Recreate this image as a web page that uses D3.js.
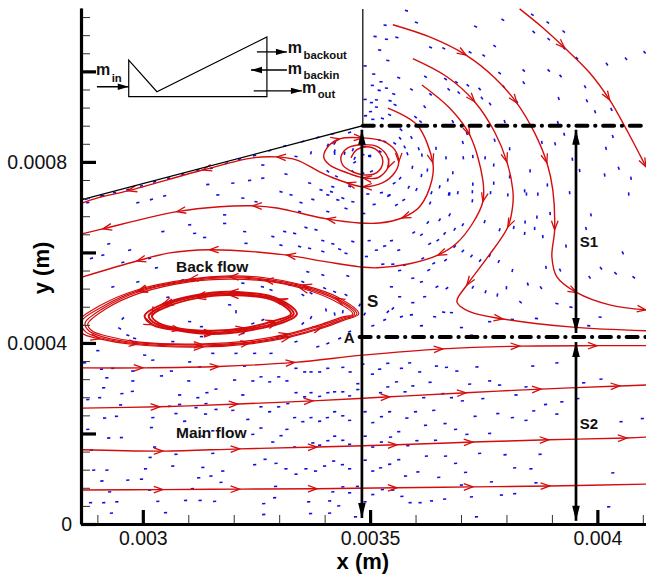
<!DOCTYPE html>
<html>
<head>
<meta charset="utf-8">
<script src="https://cdn.jsdelivr.net/npm/d3@7/dist/d3.min.js"></script>
<style>
html, body { margin: 0; padding: 0; background: #fff; }
svg { display: block; font-family: "Liberation Sans", Arial, sans-serif; }
</style>
</head>
<body>
<div id="chart"></div>
<script>
// all positions in micrometres, tick labels in metres

// ticks
const xMajorTicks = [3000, 3500, 4000];
const xMajorLabels = ["0.003", "0.0035", "0.004"];
const xMinorTicks = [2900, 3100, 3200, 3300, 3400, 3600, 3700, 3800, 3900, 4100];
const yMajorTicks = [0, 200, 400, 600, 800, 1000];
const yMajorLabels = ["0", "", "0.0004", "", "0.0008", ""];
const yMinorTicks = [40, 80, 120, 160, 240, 280, 320, 360, 440, 480, 520, 560, 640, 680, 720, 760,
    840, 880, 920, 960, 1040, 1080, 1120];

// streamtraces
const mainLine1 = [[2866, 75], [3044, 76], [3213, 77], [3383, 78], [3559, 80], [3726, 82], [3895, 84], [4107, 88]];
const mainLine1Arrows = [1, 2, 3, 4, 5, 6];
const mainLine2 = [[2866, 164], [3044, 161], [3213, 166], [3383, 170], [3559, 175], [3726, 181], [3893, 186], [4065, 190], [4107, 192]];
const mainLine2Arrows = [1, 2, 3, 4, 5, 6, 7];
const mainLine3 = [[2866, 256], [3037, 259], [3209, 265], [3374, 272], [3543, 281], [3711, 290], [3876, 298], [4049, 305], [4107, 307]];
const mainLine3Arrows = [1, 2, 3, 4, 5, 6, 7];
const mainLine4 = [[2866, 345], [3000, 345], [3167, 348], [3334, 357], [3484, 373], [3660, 387], [3829, 393], [3999, 394], [4107, 394]];
const mainLine4Arrows = [1, 2, 3, 5, 6, 7];

const topLineA = [[3829, 1138], [3878, 1098], [3928, 1052], [3983, 997], [4027, 937], [4067, 866], [4107, 789]];
const topLineAArrows = [2, 4, 6];
const topLineB = [[3550, 1103], [3631, 1076], [3711, 1036], [3774, 986], [3823, 930], [3862, 864], [3889, 798], [3902, 738],
    [3906, 650], [3900, 590], [3911, 546], [3955, 511], [4027, 484], [4107, 473]];
const topLineBArrows = [2, 4, 6, 8, 11, 13];
const topLineC = [[3594, 1028], [3669, 988], [3730, 933], [3774, 866], [3801, 800], [3814, 738], [3814, 705], [3803, 656],
    [3759, 590], [3713, 528], [3691, 491], [3719, 469], [3792, 453], [3946, 435], [4107, 427]];
const topLineCArrows = [2, 4, 7, 9, 12];
const topLineD = [[3614, 970], [3675, 919], [3719, 860], [3748, 760], [3748, 712], [3726, 665], [3691, 621], [3649, 594],
    [3587, 575], [3515, 566], [3477, 568], [3405, 579], [3317, 594], [3251, 601], [3147, 606], [3059, 599], [2987, 581], [2868, 546]];
const topLineDArrows = [2, 4, 7, 12, 14, 16];
const topLineE = [[3539, 919], [3603, 882], [3638, 798], [3636, 760], [3609, 701], [3570, 676], [3521, 665], [3477, 665],
    [3405, 674], [3345, 687], [3295, 698], [3242, 703], [3169, 701], [3075, 690], [2912, 652], [2866, 641]];
const topLineEArrows = [2, 5, 8, 11, 13, 14];
const spiralLine = [[3458, 809], [3471, 827], [3499, 833], [3521, 820], [3528, 800], [3517, 778], [3493, 771], [3462, 778],
    [3440, 793], [3436, 811], [3451, 831], [3484, 838], [3517, 833], [3539, 809], [3539, 787], [3517, 765], [3484, 765],
    [3449, 776], [3411, 793], [3398, 811], [3411, 838], [3433, 851], [3484, 853], [3528, 846], [3554, 827], [3563, 800],
    [3554, 776], [3528, 754], [3484, 745], [3449, 754], [3418, 765], [3389, 778], [3339, 804], [3295, 811], [3242, 809],
    [3132, 782], [2967, 736], [2899, 720], [2866, 709]];
const spiralLineArrows = [14, 16, 21, 22, 25, 28, 29, 33, 35, 36];

// back flow rings
const outerRingA = [[3475, 464], [3427, 502], [3352, 528], [3268, 544], [3191, 548], [3103, 541], [2987, 517], [2905, 482],
    [2857, 446], [2866, 422], [2905, 409], [2987, 396], [3132, 391], [3235, 398], [3323, 413], [3396, 433], [3444, 451]];
const outerRingAArrows = [2, 5, 10, 12, 14];
const outerRingB = [[3471, 464], [3425, 499], [3350, 526], [3268, 541], [3191, 546], [3103, 539], [2989, 515], [2909, 479],
    [2864, 446], [2875, 424], [2909, 411], [2989, 398], [3132, 393], [3235, 400], [3323, 415], [3394, 435], [3442, 453]];
const outerRingBArrows = [1, 4, 6, 11, 13, 15];
const outerRingC = [[3466, 464], [3423, 497], [3347, 524], [3268, 539], [3191, 544], [3103, 537], [2991, 513], [2914, 477],
    [2873, 444], [2881, 427], [2914, 413], [2991, 400], [3132, 396], [3235, 402], [3321, 418], [3391, 438], [3440, 455]];
const outerRingCArrows = [3, 6, 12];
const outerRingD = [[3462, 464], [3418, 495], [3345, 522], [3268, 537], [3191, 541], [3103, 535], [2993, 510], [2918, 475],
    [2879, 442], [2888, 427], [2918, 416], [2993, 402], [3132, 398], [3235, 405], [3319, 420], [3389, 440], [3438, 457]];
const outerRingDArrows = [2, 14];
const innerRingA = [[3339, 464], [3299, 497], [3191, 513], [3119, 506], [3044, 486], [3004, 460], [3022, 440], [3081, 427],
    [3154, 420], [3229, 427], [3299, 442]];
const innerRingAArrows = [1, 2, 4, 6, 8, 9];
const innerRingB = [[3332, 464], [3295, 495], [3191, 509], [3119, 503], [3048, 483], [3013, 460], [3029, 442], [3084, 429],
    [3154, 423], [3226, 430], [3295, 445]];
const innerRingBArrows = [1, 3, 4, 7, 8, 10];
const innerRingC = [[3326, 464], [3290, 493], [3191, 506], [3119, 499], [3053, 480], [3020, 460], [3035, 444], [3086, 431],
    [3154, 427], [3224, 433], [3290, 449]];
const innerRingCArrows = [2, 3, 5, 9, 10];

// velocity vectors: x, y, direction in degrees
const upperVectors = [
    [3580,1134,-15],[3602,1108,-15],[3533,1102,-5],[3511,1077,-5],[3536,1071,-10],[3559,1075,-10],[3521,1047,-10],[3539,1024,-10],
    [3489,1012,0],[3508,994,0],[3524,977,0],[3505,969,0],[3536,963,-5],[3520,958,-10],[3489,938,0],[3514,937,-5],[3503,931,0],
    [3544,935,-15],[3552,950,-20],[3555,926,-20],[3514,921,-5],[3501,911,5],[3490,902,5],[3506,894,0],[3527,896,-15],[3543,904,-25],
    [3563,986,-20],[3591,960,-30],[3620,922,-50],[3600,899,-40],[3611,889,-40],[3633,949,-40],[3622,988,-30],[3633,1053,-25],
    [3662,1051,-25],[3666,983,-35],[3690,976,-35],[3673,960,-40],[3695,953,-45],[3715,969,-40],[3741,961,-45],[3720,1042,-30],
    [3750,1035,-35],[3774,1056,-35],[3732,1099,-25],[3792,1114,-30],[3857,1125,-35],[3891,1108,-35],[3860,1087,-40],[3893,1071,-40],
    [3926,1088,-40],[3927,1051,-45],[3955,1029,-45],[3785,996,-40],[3838,1002,-45],[3893,1002,-45],[3919,990,-50],[3838,975,-55],
    [3973,966,-60],[3915,940,-70],[3977,935,-65],[3995,911,-70],[4031,916,-60],[4021,1016,-55],[4063,1028,-50],[4104,1042,-50],
    [3746,941,-55],[3764,928,-55],[3823,933,-60],[3794,966,-50],[3682,889,-60],[3713,863,-70],[3704,843,-75],[3796,889,-75],
    [3774,848,-75],[3807,829,-85],[3913,887,-75],[3927,861,-75],[3907,840,-75],[3878,843,-80],[3945,806,-80],[3961,781,-80],
    [4019,830,-75],[4034,856,-70],[4016,771,-80],[4047,786,-70],[4074,764,-80],[4069,729,-85],[3852,780,90],[3772,793,85],
    [3753,809,85],[3726,812,-85],[3705,809,-80],[3667,809,-85],[3645,830,-85],[3614,815,-85],[3607,829,-70],[3576,833,-60],
    [3582,818,-70],[3566,852,-50],[3568,871,-40],[3591,854,-60],[3593,788,80],[3613,770,80],[3626,782,85],[3585,744,60],
    [3602,739,65],[3566,764,50],[3553,753,30],[3541,725,20],[3525,732,10],[3495,729,0],[3671,760,80],[3653,745,75],[3635,732,70],
    [3682,776,90],[3693,732,80],[3675,729,80],[3726,751,90],[3725,734,90],[3772,753,90],[3765,732,85],[3807,767,90],[3840,736,90],
    [3869,729,90],[3890,749,90],[3939,732,-85],[3554,841,-35],[3532,845,-20],[3521,848,-10],[3522,823,-30],[3499,814,10],[3488,834,0]
];
const rightVectors = [
    [3542,727,20],[3574,716,30],[3558,705,30],[3509,706,5],[3486,686,0],[3632,709,65],[3673,729,80],[3725,714,80],[3803,727,85],
    [3844,729,90],[3986,683,-80],[3675,683,60],[3653,672,55],[3627,666,50],[3596,644,35],[3613,639,35],[3664,642,50],[3686,651,55],
    [3704,661,60],[3752,668,70],[3785,650,70],[3816,655,80],[3841,667,85],[3840,642,85],[3862,653,90],[3867,678,90],[3896,686,-85],
    [3880,635,-85],[3931,614,-80],[3975,653,-75],[4056,599,-65],[4008,565,-50],[4040,554,-40],[4080,545,-35],[3983,545,-55],
    [3918,561,-65],[3887,567,-80],[3813,560,75],[3783,580,65],[3763,593,60],[3742,582,55],[3723,592,50],[3704,603,45],[3686,613,45],
    [3649,627,35],[3631,619,30],[3666,583,40],[3640,576,30],[3616,587,25],[3576,572,15],[3563,605,15],[3532,614,10],[3547,626,10],
    [3498,626,5],[3514,605,5],[3492,591,0],[3528,574,5],[3550,574,8],[3565,560,8],[3594,543,10],[3613,535,12],[3629,561,25],
    [3647,524,30],[3669,521,35],[3726,523,60],[3754,513,70],[3780,506,80],[3800,522,85],[3847,530,-70],[3876,522,-55],[3831,490,-40],
    [3911,487,-15],[3942,479,-10],[4006,457,-5],[3981,438,-5],[3866,454,-5],[3813,452,-5],[3763,447,0],[3701,434,0],[3679,467,-5],
    [3662,468,-10],[3642,458,-10],[3613,438,5],[3591,462,10],[3569,458,15],[3550,476,45],[3539,469,45],[3532,451,25],[3506,438,20],
    [3488,464,60],[3547,524,0],[3565,502,0],[3594,489,0],[3620,502,10],[3723,417,0]
];
const leftVectors = [
    [2879,710,15],[2912,725,15],[2989,710,15],[3019,717,15],[3048,725,15],[3165,727,0],[3220,720,-5],[3249,712,-10],[3304,734,-15],
    [3326,727,-15],[3348,710,-15],[3374,717,-15],[3407,727,-10],[3429,716,-10],[3462,712,-10],[3447,697,-15],[3407,690,-15],
    [3345,690,-15],[3180,683,0],[3103,661,5],[3180,664,0],[3114,642,5],[3136,633,0],[3044,646,8],[2971,605,15],[2912,594,15],
    [2925,619,15],[2887,587,15],[2956,578,15],[3015,587,12],[3030,566,12],[2934,524,15],[2989,535,15],[3055,501,10],[3088,539,10],
    [3227,620,0],[3224,646,-5],[3312,646,-10],[3334,642,-10],[3359,655,-15],[3381,650,-15],[3396,626,-15],[3418,619,-15],
    [3433,607,-15],[3447,598,-15],[3462,624,-15],[3286,635,-10],[3304,616,-10],[3345,613,-15],[3367,609,-15],[3396,602,-15],
    [3363,557,-15],[3451,548,-20],[3396,550,-20],[3352,535,-20],[3337,528,-20],[3323,528,-20],[3400,521,-25],[3422,513,-25],
    [3447,506,-30],[3282,517,-15],[3263,524,-10],[3220,532,-5],[3301,487,-30],[3352,506,-30],[3370,510,-30],[3403,473,-75],
    [3422,464,-80],[3440,469,80],[3370,456,60],[3352,443,45],[3264,451,20],[3242,443,15],[3227,432,10],[3191,484,-5],[3205,469,-85],
    [3103,447,-5],[3129,436,0],[2956,454,45],[2949,432,-30],[2967,417,-20],[2982,410,-15],[3004,373,-5],[3037,395,-5],[3066,403,0],
    [3129,414,0],[3169,421,0],[3220,421,5],[3297,414,15],[3337,403,15],[3385,392,15],[3407,399,20],[3433,410,20],[3455,425,25],
    [3282,377,5],[3246,377,5],[3205,377,5],[3154,377,0],[2901,383,0],[2868,358,0],[3477,484,60]
];
const wallVectors = [
    [3455,865,15],[3418,862,15],[3385,854,15],[3352,845,20],[3312,835,15],[3279,825,15],[3246,814,15],[3213,806,15],[3184,797,15],
    [3151,786,15],[3121,782,15],[3088,773,15],[3057,764,15],[3026,756,15],[2997,747,15],[2967,739,15],[2938,732,15],[2909,725,15],
    [2876,718,15],[3370,820,75],[3337,812,-10],[3315,773,-15],[3264,793,0],[3264,764,5],[3235,759,5],[3198,753,5],[3143,750,5],
    [3367,753,-15],[3392,738,-15],[3418,745,-15],[3466,799,30],[3407,837,60],[3422,824,70],[3466,808,65],[3462,827,70],[3444,819,80],
    [3422,841,60],[3422,819,90],[3407,779,-40],[3426,768,-30],[3499,812,-10],[3503,779,20],[3484,775,10],[3415,734,-15],[3440,720,-20],
    [3462,779,-45],[3484,816,0],[3455,746,-20]
];
// main flow vectors point along the channel
const mainFlowVectors = [
    [2872,356],[2909,342],[2934,344],[2978,338],[3022,362],[3041,327],[3063,338],[3103,358],[3125,347],[3224,349],[2921,323],[2914,301],
    [2978,316],[2977,293],[2954,288],[2879,275],[2905,279],[2951,263],[3081,285],[3121,279],[3141,290],[3161,298],[3101,316],[3202,318],
    [3242,316],[3260,325],[3279,314],[3299,325],[3317,316],[3337,344],[3356,336],[3370,336],[3389,336],[3407,344],[3337,290],[3356,281],
    [3370,290],[3389,282],[3407,290],[3422,292],[3081,264],[3059,260],[3117,257],[3139,266],[3161,253],[3198,251],[3220,285],[3260,259],
    [3279,248],[3299,259],[3319,266],[3073,244],[3022,235],[3092,227],[3138,243],[3231,231],[2916,234],[2942,238],[2879,209],[3019,213],
    [2925,190],[2953,191],[3132,194],[3154,206],[3242,198],[3260,212],[3304,195],[3317,209],[3286,181],[3334,235],[3352,226],[3370,235],
    [3389,227],[3406,235],[3422,248],[3026,170],[2887,163],[3073,154],[3016,147],[3154,156],[3334,170],[3374,179],[3389,174],[3407,184],
    [3422,194],[2892,119],[2921,119],[3006,122],[3066,128],[3132,125],[3176,117],[3246,131],[3269,143],[3293,134],[3315,122],[3337,110],
    [3359,122],[3380,117],[3400,128],[3420,139],[2910,95],[2967,97],[2997,99],[3123,102],[3150,106],[3172,92],[2927,71],[3015,75],
    [3109,78],[3292,83],[3290,58],[3418,71],[2885,47],[2914,47],[2943,49],[3033,50],[3094,52],[3126,52],[3158,50],[3266,45],[3365,49],
    [3411,51],[2931,24],[3050,25],[3266,21],[3369,23],[3411,24],[3431,40],
    [3440,346],[3456,336],[3484,353],[3505,331],[3521,342],[3539,355],[3569,344],[3587,356],[3609,336],[3646,349],[3668,346],[3691,338],
    [3735,347],[3858,349],[3911,356],[3440,292],[3455,283],[3473,310],[3473,297],[3523,290],[3539,303],[3558,314],[3577,292],[3594,305],
    [3632,313],[3618,279],[3660,288],[3679,279],[3703,272],[3719,309],[3763,316],[3785,307],[3748,277],[3821,285],[3843,303],[3886,264],
    [3922,270],[3970,312],[4008,320],[3957,277],[3440,239],[3455,229],[3489,248],[3506,224],[3525,237],[3543,248],[3581,234],[3600,248],
    [3640,251],[3622,218],[3665,222],[3688,209],[3713,198],[3731,238],[3763,200],[3781,244],[3813,235],[3843,229],[3860,250],[3911,243],
    [4052,226],[4099,233],[3440,185],[3455,176],[3489,194],[3506,170],[3525,181],[3545,192],[3563,204],[3583,173],[3603,184],[3644,185],
    [3624,150],[3666,150],[3688,134],[3710,114],[3741,156],[3797,153],[3874,154],[3818,124],[3854,122],[4034,113],[3605,115],[3578,106],
    [3651,103],[3439,131],[3455,122],[3489,141],[3506,117],[3523,124],[3543,132],[3563,142],[3440,82],[3455,69],[3472,83],[3506,65],
    [3527,76],[3550,75],[3570,61],[3588,47],[3610,47],[3635,51],[3664,55],[3701,86],[3723,60],[3767,93],[3789,64],[3818,67],[3865,91],
    [3489,49],[3468,16],[3734,16],[4025,38]
];

// geometry and annotations
const wallLine = [[2864, 716], [3484, 880], [3484, 1138]];
const insetShape = [[2969, 1025], [3031, 955], [3273, 1076], [3273, 944], [2969, 944]];
const cutLineTop = [[3484, 880], [4107, 880]];
const cutLineBottom = [[3477, 413], [4107, 413]];
const spanArrows = [
    [[3482, 871], [3482, 13]],
    [[3953, 871], [3953, 422]],
    [[3953, 402], [3953, 7]]
];
const insetArrows = [
    [[2899, 966], [2969, 966]],
    [[3251, 1043], [3317, 1043]],
    [[3317, 1003], [3238, 1003]],
    [[3244, 957], [3350, 957]]
];
const spanLabels = [["S", 3493, 479], ["S1", 3961, 612], ["S2", 3961, 210], ["A", 3442, 400]];
const flowLabels = [["Back flow", 3073, 557], ["Main flow", 3073, 190]];
const massLabels = [["in", 2897, 992, 7], ["backout", 3319, 1041, 6], ["backin", 3319, 995, 5], ["out", 3350, 952, 5]];

const width = 646;
const height = 575;

const xScale = d3.scaleLinear().domain([2864, 4107]).range([81, 646]);
const yScale = d3.scaleLinear().domain([0, 1140]).range([524, 8]);

const svg = d3.select("#chart").append("svg")
    .attr("width", width)
    .attr("height", height);

svg.append("defs").append("clipPath")
    .attr("id", "plot-clip")
    .append("rect")
    .attr("x", 81)
    .attr("y", 0)
    .attr("width", width - 81)
    .attr("height", 524);

const lineGen = d3.line().x(d => xScale(d[0])).y(d => yScale(d[1])).curve(d3.curveCatmullRom);
const closedGen = d3.line().x(d => xScale(d[0])).y(d => yScale(d[1])).curve(d3.curveCatmullRomClosed);
const straightGen = d3.line().x(d => xScale(d[0])).y(d => yScale(d[1]));

const plot = svg.append("g").attr("clip-path", "url(#plot-clip)");

// velocity vectors
const vectorRows = [...upperVectors, ...rightVectors, ...leftVectors, ...wallVectors, ...mainFlowVectors.map(d => [d[0], d[1], 3])];
plot.append("g").selectAll("line")
    .data(vectorRows)
    .join("line")
    .attr("x1", d => xScale(d[0]) - 1.6 * Math.cos(d[2] * Math.PI / 180))
    .attr("y1", d => yScale(d[1]) + 1.6 * Math.sin(d[2] * Math.PI / 180))
    .attr("x2", d => xScale(d[0]) + 1.6 * Math.cos(d[2] * Math.PI / 180))
    .attr("y2", d => yScale(d[1]) - 1.6 * Math.sin(d[2] * Math.PI / 180))
    .attr("stroke", "#1010e0")
    .attr("stroke-width", 1.6);

// wall and inset sketch
svg.append("path")
    .attr("d", straightGen(wallLine))
    .attr("fill", "none")
    .attr("stroke", "#000")
    .attr("stroke-width", 1.2);

svg.append("path")
    .attr("d", straightGen(insetShape) + "Z")
    .attr("fill", "none")
    .attr("stroke", "#000")
    .attr("stroke-width", 1.2);

// streamtraces
const redLine = "#d40c0c";

function drawArrows(points, arrows, closed) {
    const n = points.length;
    arrows.forEach(i => {
        const a = closed ? points[(i + n - 1) % n] : points[Math.max(i - 1, 0)];
        const b = closed ? points[(i + 1) % n] : points[Math.min(i + 1, n - 1)];
        const ang = Math.atan2(yScale(b[1]) - yScale(a[1]), xScale(b[0]) - xScale(a[0]));
        const x = xScale(points[i][0]);
        const y = yScale(points[i][1]);
        const barb = s => [
            x - 9 * Math.cos(ang) - s * 3.3 * Math.sin(ang),
            y - 9 * Math.sin(ang) + s * 3.3 * Math.cos(ang)
        ];
        plot.append("path")
            .attr("d", d3.line()([barb(1), [x, y], barb(-1)]))
            .attr("fill", "none")
            .attr("stroke", redLine)
            .attr("stroke-width", 1.3);
    });
}

const openLines = [
    [mainLine1, mainLine1Arrows], [mainLine2, mainLine2Arrows], [mainLine3, mainLine3Arrows], [mainLine4, mainLine4Arrows],
    [topLineA, topLineAArrows], [topLineB, topLineBArrows], [topLineC, topLineCArrows], [topLineD, topLineDArrows],
    [topLineE, topLineEArrows], [spiralLine, spiralLineArrows]
];
openLines.forEach(([points, arrows]) => {
    plot.append("path")
        .attr("d", lineGen(points))
        .attr("fill", "none")
        .attr("stroke", redLine)
        .attr("stroke-width", 1.4);
    drawArrows(points, arrows, false);
});

const rings = [
    [outerRingA, outerRingAArrows, 1.2], [outerRingB, outerRingBArrows, 1.2], [outerRingC, outerRingCArrows, 1.2], [outerRingD, outerRingDArrows, 1.2],
    [innerRingA, innerRingAArrows, 2], [innerRingB, innerRingBArrows, 2], [innerRingC, innerRingCArrows, 2]
];
rings.forEach(([points, arrows, sw]) => {
    plot.append("path")
        .attr("d", closedGen(points))
        .attr("fill", "none")
        .attr("stroke", redLine)
        .attr("stroke-width", sw);
    drawArrows(points, arrows, true);
});

// dash-dot lines bounding S1 and S2
[cutLineTop, cutLineBottom].forEach(points => {
    svg.append("path")
        .attr("d", straightGen(points))
        .attr("fill", "none")
        .attr("stroke", "#000")
        .attr("stroke-width", 4)
        .attr("stroke-linecap", "round")
        .attr("stroke-dasharray", "11 7.7 0.3 7.7");
});

function drawBlackArrow(pts, lineWidth, headLen, headHalf) {
    const x1 = xScale(pts[0][0]), y1 = yScale(pts[0][1]);
    const x2 = xScale(pts[1][0]), y2 = yScale(pts[1][1]);
    const ang = Math.atan2(y2 - y1, x2 - x1);
    const cos = Math.cos(ang), sin = Math.sin(ang);
    svg.append("line")
        .attr("x1", x1).attr("y1", y1)
        .attr("x2", x2).attr("y2", y2)
        .attr("stroke", "#000")
        .attr("stroke-width", lineWidth);
    const head = (x, y, c, s) => [
        [x, y],
        [x - headLen * c - headHalf * s, y - headLen * s + headHalf * c],
        [x - headLen * c + headHalf * s, y - headLen * s - headHalf * c]
    ];
    return { head, x1, y1, x2, y2, cos, sin };
}

spanArrows.forEach(pts => {
    const a = drawBlackArrow(pts, 2.7, 15, 3.8);
    [a.head(a.x2, a.y2, a.cos, a.sin), a.head(a.x1, a.y1, -a.cos, -a.sin)].forEach(tri => {
        svg.append("polygon")
            .attr("points", tri.join(" "))
            .attr("fill", "#000");
    });
});

insetArrows.forEach(pts => {
    const a = drawBlackArrow(pts, 1.3, 11, 3.2);
    svg.append("polygon")
        .attr("points", a.head(a.x2, a.y2, a.cos, a.sin).join(" "))
        .attr("fill", "#000");
});

// labels
svg.append("g").selectAll("text")
    .data(spanLabels)
    .join("text")
    .attr("x", d => xScale(d[1]))
    .attr("y", d => yScale(d[2]))
    .attr("font-size", d => d[0] === "S" ? 17 : 15)
    .attr("font-weight", "bold")
    .attr("fill", "#111")
    .text(d => d[0]);

svg.append("g").selectAll("text")
    .data(flowLabels)
    .join("text")
    .attr("x", d => xScale(d[1]))
    .attr("y", d => yScale(d[2]))
    .attr("font-size", 15.5)
    .attr("font-weight", "bold")
    .attr("fill", "#111")
    .text(d => d[0]);

const massText = svg.append("g").selectAll("text")
    .data(massLabels)
    .join("text")
    .attr("x", d => xScale(d[1]))
    .attr("y", d => yScale(d[2]))
    .attr("font-size", 16)
    .attr("font-weight", "bold")
    .attr("fill", "#111");
massText.append("tspan").text("m");
massText.append("tspan")
    .attr("dx", 1.5)
    .attr("dy", d => d[3])
    .attr("font-size", 11.3)
    .text(d => d[0]);

// axes: minor ticks underneath, then the labelled major ticks
svg.append("g")
    .attr("transform", "translate(0,524)")
    .call(d3.axisBottom(xScale).tickValues(xMinorTicks).tickSize(-9).tickSizeOuter(0).tickFormat(""))
    .call(g => g.selectAll(".tick line").attr("stroke", "#333").attr("stroke-width", 1));
svg.append("g")
    .attr("transform", "translate(81,0)")
    .call(d3.axisLeft(yScale).tickValues(yMinorTicks).tickSize(-9).tickSizeOuter(0).tickFormat(""))
    .call(g => g.selectAll(".tick line").attr("stroke", "#333").attr("stroke-width", 1));

const xAxis = svg.append("g")
    .attr("transform", "translate(0,524)")
    .call(d3.axisBottom(xScale).tickValues(xMajorTicks).tickSize(-14).tickPadding(7).tickSizeOuter(0)
        .tickFormat((d, i) => xMajorLabels[i]));
const yAxis = svg.append("g")
    .attr("transform", "translate(81,0)")
    .call(d3.axisLeft(yScale).tickValues(yMajorTicks).tickSize(-15).tickPadding(9).tickSizeOuter(0)
        .tickFormat((d, i) => yMajorLabels[i]));

[xAxis, yAxis].forEach(g => {
    g.select(".domain").attr("stroke", "#000").attr("stroke-width", 3.2);
    g.selectAll(".tick line").attr("stroke", "#000").attr("stroke-width", 3.2);
    g.selectAll(".tick text")
        .attr("font-family", "'Liberation Sans', Arial, sans-serif")
        .attr("font-size", 19.5)
        .attr("fill", "#111");
});
// the long y labels sit a little further from the axis than the 0
yAxis.selectAll(".tick text").attr("dx", d => d === 0 ? 0 : -5);

svg.append("text")
    .attr("x", xScale(3484))
    .attr("y", 569)
    .attr("text-anchor", "middle")
    .attr("font-size", 22)
    .attr("font-weight", "bold")
    .text("x (m)");

svg.append("text")
    .attr("transform", "translate(49,268) rotate(-90)")
    .attr("text-anchor", "middle")
    .attr("font-size", 22)
    .attr("font-weight", "bold")
    .text("y (m)");
</script>
</body>
</html>
